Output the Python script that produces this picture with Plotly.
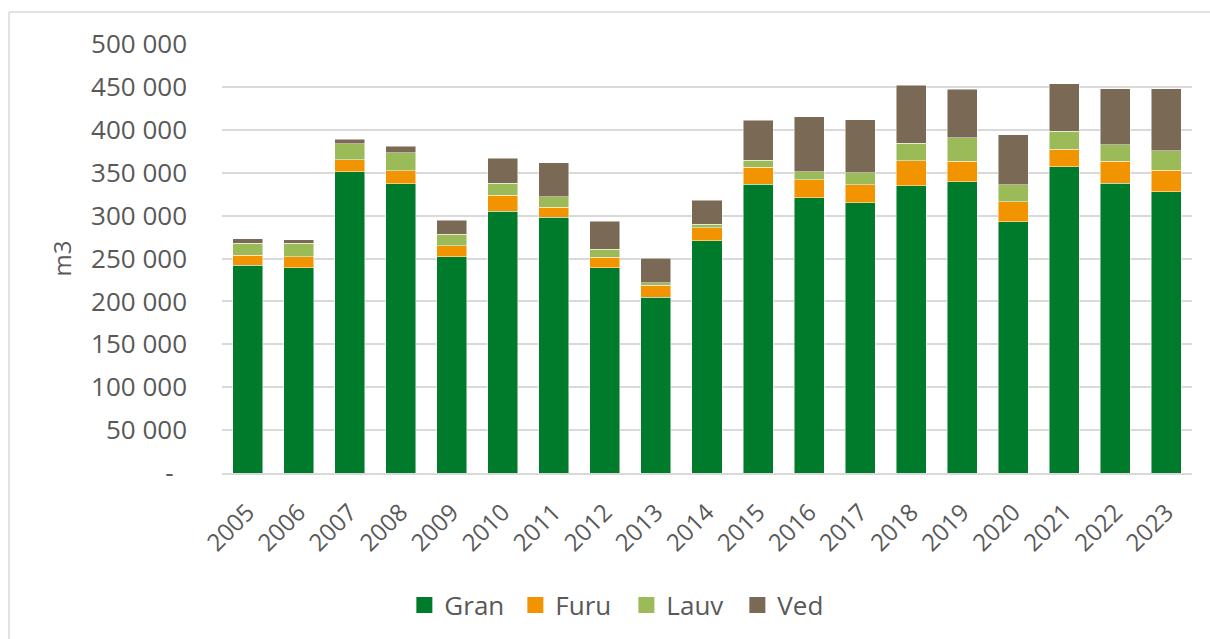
import plotly.graph_objects as go

years = [str(y) for y in range(2005, 2024)]
gran = [242000, 239000, 351000, 337000, 252000, 305000, 298000, 239000, 205000, 270500,
        336500, 321000, 315000, 335000, 339500, 293000, 357000, 337600, 328000]
furu = [12000, 13000, 14000, 15000, 13000, 18600, 12000, 12700, 14000, 15500,
        19800, 21000, 21000, 29000, 23800, 23000, 20300, 26000, 24800]
lauv = [14000, 16000, 19000, 21000, 13500, 14400, 11700, 9000, 2500, 4000,
        8200, 9000, 14000, 20600, 27500, 19800, 21000, 18700, 22800]
ved = [5000, 4000, 5000, 8000, 16000, 29000, 40000, 33000, 29000, 28000,
       46500, 64000, 62000, 67200, 56200, 58200, 55200, 65300, 72400]

series = [("Gran", gran, "#007A2B"), ("Furu", furu, "#F29400"),
          ("Lauv", lauv, "#9BBB59"), ("Ved", ved, "#7A6955")]

tickvals = [0, 50000, 100000, 150000, 200000, 250000, 300000, 350000, 400000, 450000, 500000]
ticktext = ["-\u00a0\u00a0"] + [f"{v // 1000} 000" for v in tickvals[1:]]

FONT = "Open Sans"
fig = go.Figure()
for name, vals, col in series:
    fig.add_trace(go.Bar(x=years, y=vals, name=name, marker_color=col, showlegend=False,
                         marker_line=dict(color="rgba(255,255,255,0.6)", width=0.8)))
# legend entries with larger square swatches
for name, vals, col in series:
    fig.add_trace(go.Scatter(x=[None], y=[None], mode="markers", name=name,
                             marker=dict(symbol="square", size=18, color=col)))

fig.update_layout(
    barmode="stack", bargap=0.412,
    width=1210, height=639,
    margin=dict(l=222, r=18, t=44, b=165),
    paper_bgcolor="white", plot_bgcolor="white",
    font=dict(family=FONT, color="#595959", size=24),
    showlegend=True,
    legend=dict(orientation="h", x=0.188, xanchor="left", y=-0.305, yanchor="middle",
                font=dict(size=26, color="#595959"), traceorder="normal",
                entrywidth=66, entrywidthmode="pixels", itemclick=False,
                itemwidth=30),
    xaxis=dict(tickangle=-45, showgrid=False, showline=True, linecolor="#D9D9D9", linewidth=1.5,
               tickfont=dict(size=24, color="#595959"), ticks="", ticklabelstandoff=14),
    yaxis=dict(range=[0, 500000], tickvals=tickvals, ticktext=ticktext,
               showgrid=True, gridcolor="#D9D9D9", gridwidth=1.5, zeroline=False,
               showline=False, ticklabelstandoff=34,
               tickfont=dict(size=26, color="#595959")),
    shapes=[
        dict(type="line", xref="paper", yref="paper", x0=-0.2196, x1=1.1, y0=1.0745, y1=1.0745,
             line=dict(color="#D9D9D9", width=1.5)),
        dict(type="line", xref="paper", yref="paper", x0=-0.2196, x1=-0.2196, y0=1.0745, y1=-0.5,
             line=dict(color="#D9D9D9", width=1.5)),
    ],
    annotations=[dict(text="m3", xref="paper", yref="paper", x=-0.165, y=0.5,
                      xanchor="center", yanchor="middle",
                      textangle=-90, showarrow=False, font=dict(size=24, color="#595959"))],
)

fig.write_html("out.html", post_script="document.body.style.margin='0';",
               config={"displayModeBar": False})
